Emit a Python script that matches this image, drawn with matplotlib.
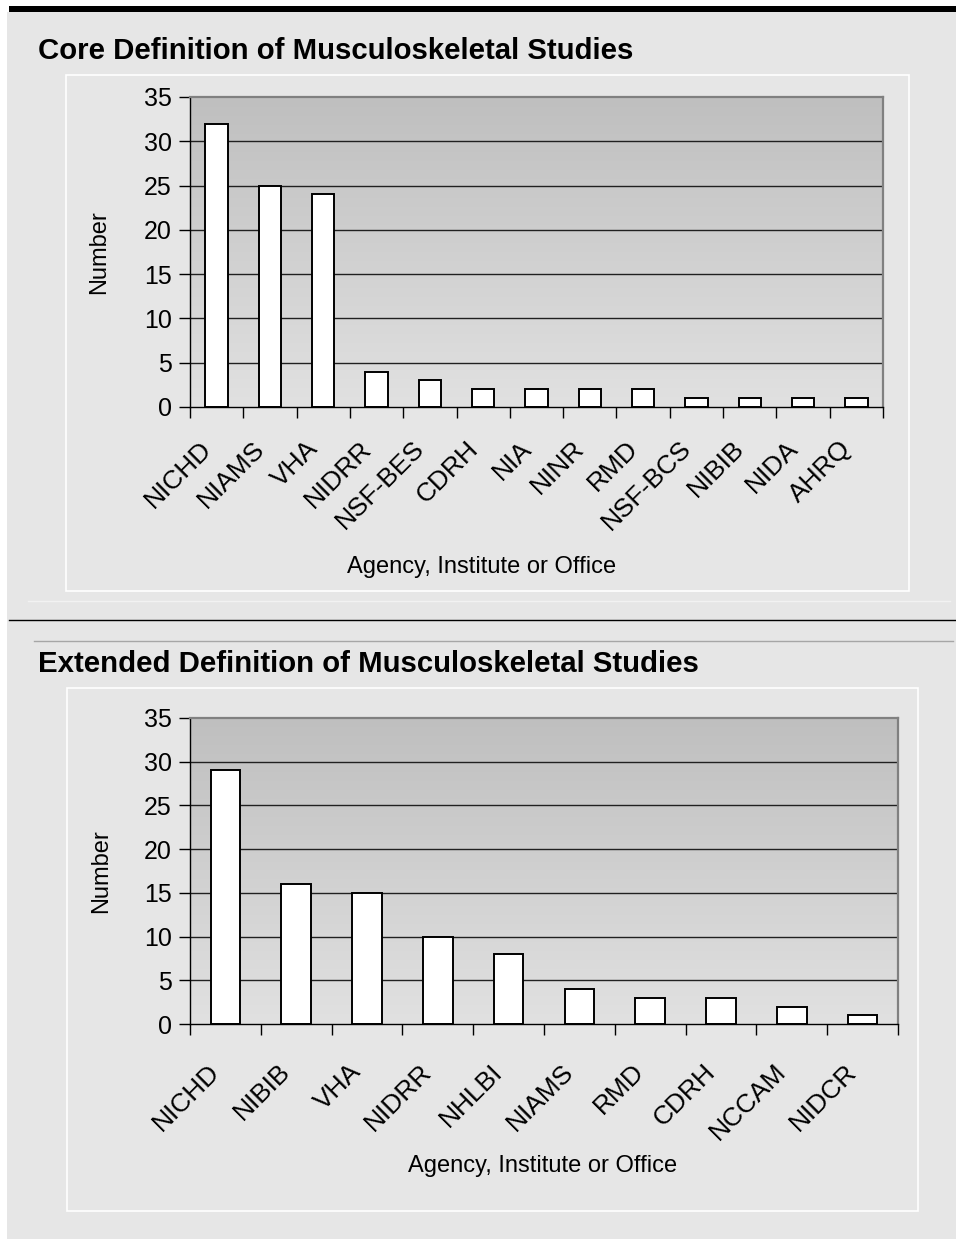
import numpy as np
import matplotlib
matplotlib.use("Agg")
import matplotlib.pyplot as plt
from matplotlib.patches import Rectangle
from matplotlib.lines import Line2D
from matplotlib.transforms import ScaledTranslation

plt.rcParams['font.family'] = ['Liberation Sans', 'DejaVu Sans']

core_agencies = ["NICHD", "NIAMS", "VHA", "NIDRR", "NSF-BES", "CDRH", "NIA",
                 "NINR", "RMD", "NSF-BCS", "NIBIB", "NIDA", "AHRQ"]
core_counts = [32, 25, 24, 4, 3, 2, 2, 2, 2, 1, 1, 1, 1]

ext_agencies = ["NICHD", "NIBIB", "VHA", "NIDRR", "NHLBI", "NIAMS", "RMD",
                "CDRH", "NCCAM", "NIDCR"]
ext_counts = [29, 16, 15, 10, 8, 4, 3, 3, 2, 1]

y_ticks = [0, 5, 10, 15, 20, 25, 30, 35]

W, H = 956, 1239
fig = plt.figure(figsize=(W / 100, H / 100), dpi=100)
fig.patch.set_facecolor("white")


def px_rect(x0, y0, x1, y1, **kw):
    # rectangle given in pixel coords from top-left
    r = Rectangle((x0 / W, 1 - y1 / H), (x1 - x0) / W, (y1 - y0) / H,
                  transform=fig.transFigure, **kw)
    fig.patches.append(r)


def px_line(x0, x1, y, **kw):
    fig.lines.append(Line2D([x0 / W, x1 / W], [1 - y / H, 1 - y / H],
                            transform=fig.transFigure, **kw))


# page background and rules
px_rect(7, 12, W, H, facecolor="#e6e6e6", edgecolor="none", zorder=0)
px_rect(9, 6, W, 12, facecolor="black", edgecolor="none", zorder=1)
px_line(28, 950, 601, color="#f2f2f2", lw=1)
px_line(9, W, 620, color="black", lw=1)
px_line(34, 953, 641, color="#a6a6a6", lw=1)

# chart frames
px_rect(66, 75, 909, 591, facecolor="#e6e6e6", edgecolor="white", lw=1.2, zorder=1)
px_rect(67, 688, 918, 1211, facecolor="#e6e6e6", edgecolor="white", lw=1.2, zorder=1)

grad = np.linspace(0, 1, 256).reshape(-1, 1)
cmap = matplotlib.colors.LinearSegmentedColormap.from_list("g", ["#bfbfbf", "#e1e1e1"])


def draw_panel(box, names, counts, title, title_y, ylab_pos, xlab_pos, lab_off):
    x0, y0, x1, y1 = box
    ax = fig.add_axes([x0 / W, 1 - y1 / H, (x1 - x0) / W, (y1 - y0) / H])
    ax.set_zorder(3)
    ax.patch.set_visible(False)
    n = len(names)
    ax.set_xlim(-0.5, n - 0.5)
    ax.set_ylim(0, 35)
    ax.imshow(grad, extent=[-0.5, n - 0.5, 0, 35], aspect="auto", cmap=cmap,
              origin="upper", zorder=0)
    for t in y_ticks[1:-1]:
        ax.axhline(t, color="#202020", lw=1, zorder=1)
    ax.bar(range(n), counts, width=0.42, color="white", edgecolor="black",
           lw=1.4, zorder=2)
    ax.set_yticks(y_ticks)
    ax.set_yticklabels([str(t) for t in y_ticks], fontsize=18)
    ax.set_xticks(range(n))
    ax.set_xticklabels(names, rotation=45, ha="right", va="center",
                       rotation_mode="anchor", fontsize=19)
    ax.set_xticks(np.arange(n + 1) - 0.5, minor=True)
    ax.tick_params(axis="x", which="major", length=0, pad=0)
    ax.tick_params(axis="x", which="minor", length=8, width=1, direction="out")
    ax.tick_params(axis="y", length=8, width=1, direction="out", pad=5)
    shift = ScaledTranslation(lab_off[0] / 100, -lab_off[1] / 100, fig.dpi_scale_trans)
    for lab in ax.get_xticklabels():
        lab.set_transform(lab.get_transform() + shift)
    for s in ["left", "bottom"]:
        ax.spines[s].set_color("black")
        ax.spines[s].set_linewidth(1)
    for s in ["top", "right"]:
        ax.spines[s].set_color("#808080")
        ax.spines[s].set_linewidth(1.6)
    fig.text(38 / W, 1 - title_y / H, title, fontsize=21.2, fontweight="bold",
             ha="left", va="baseline", zorder=4)
    fig.text(ylab_pos[0] / W, 1 - ylab_pos[1] / H, "Number", fontsize=17,
             rotation=90, ha="center", va="center", zorder=4)
    fig.text(xlab_pos[0] / W, 1 - xlab_pos[1] / H, "Agency, Institute or Office",
             fontsize=17, ha="center", va="center", zorder=4)
    return ax


draw_panel((190, 97, 883, 407), core_agencies, core_counts,
           "Core Definition of Musculoskeletal Studies", 59, (99, 252), (482, 567),
           (-9, 38))
draw_panel((190, 718, 898, 1024), ext_agencies, ext_counts,
           "Extended Definition of Musculoskeletal Studies", 672, (101, 871), (543, 1166),
           (-10, 44))

fig.savefig("out.png", dpi=100)
